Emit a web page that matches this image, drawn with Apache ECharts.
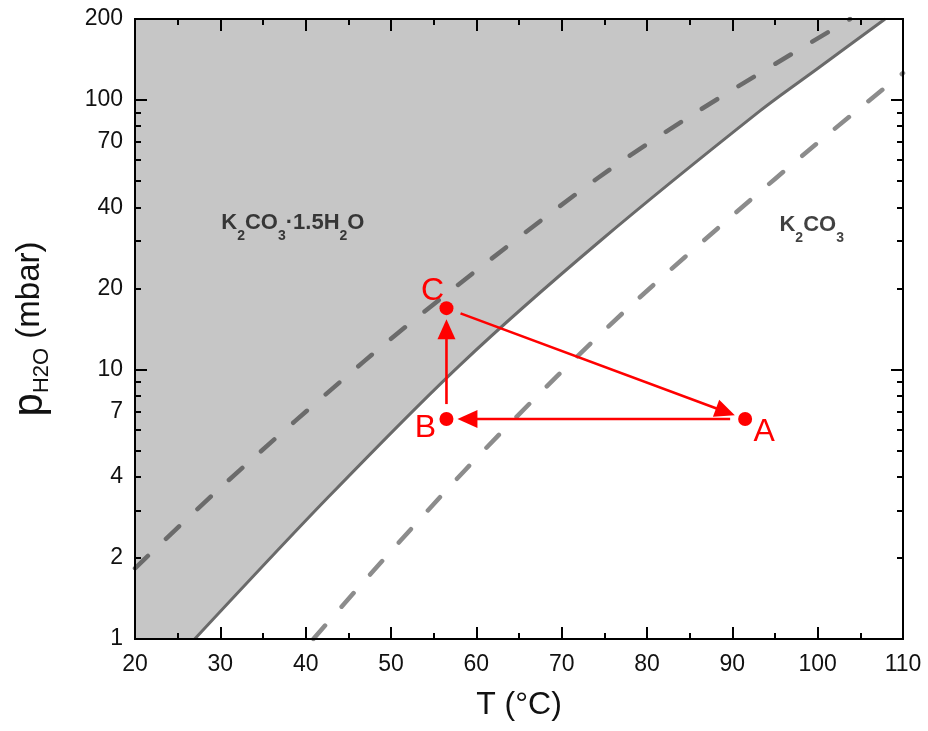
<!DOCTYPE html>
<html>
<head>
<meta charset="utf-8">
<script src="https://cdn.jsdelivr.net/npm/echarts@6/dist/echarts.min.js"></script>
<style>
  html, body { margin: 0; padding: 0; background: #fff; }
  #chart { width: 928px; height: 731px; }
</style>
</head>
<body>
<div id="chart"></div>
<script>
// values: [T (°C), p_H2O (mbar)]
const equilibrium = [[27.0, 1.0], [42.6, 3.35], [58.3, 10.55], [74.5, 30], [93.2, 91], [100, 131], [107.9, 200]];
const upperDashed = [[20, 1.83], [30.8, 3.84], [46.8, 10.7], [57.5, 20.2], [74.2, 51.3], [86.2, 91.9], [103.8, 200]];
const lowerDashed = [[40.9, 1], [47.3, 1.70], [58.7, 4.24], [69.4, 9.41], [78.8, 18.1], [90.1, 37.5], [100, 69.4], [110, 126]];

const cycleNames = ['A', 'B', 'C'];
const cycleT = [91.5, 56.5, 56.5];
const cycleP = [6.55, 6.55, 16.9];
const cycleSteps = [[0, 1], [1, 2], [2, 0]]; // A->B, B->C, C->A

const phaseText = ['{b|K}{s|2}{b|CO}{s|3}{b|·1.5H}{s|2}{b|O}', '{b|K}{s|2}{b|CO}{s|3}'];
const phaseT = [38.5, 99.3];
const phaseP = [35, 34.4];

const xMin = 20, xMax = 110, xStep = 10;
const yMin = 1, yMax = 200;
const yLabels = [1, 2, 4, 7, 10, 20, 40, 70, 100, 200];
const yMajor = [1, 10, 100];
const yMinor = [2, 3, 4, 5, 6, 7, 8, 9, 20, 30, 40, 50, 60, 70, 80, 90];

const FONT = '"Liberation Sans", Arial, sans-serif';
const RED = '#ff0000';
const GRAY = '#c6c6c6';
const SMOOTH = 0.3;

const chart = echarts.init(document.getElementById('chart'));

const lineStyleAxis = { color: '#000', width: 2 };

const xAxisBase = (pos, withLabels) => ({
  type: 'value',
  position: pos,
  z: 10,
  min: xMin,
  max: xMax,
  interval: xStep,
  axisLine: { show: true, onZero: false, lineStyle: lineStyleAxis },
  axisTick: { show: true, inside: true, length: 12, lineStyle: lineStyleAxis },
  minorTick: { show: true, splitNumber: 2, length: 6, lineStyle: lineStyleAxis },
  axisLabel: { show: withLabels, fontSize: 23, color: '#111', fontFamily: FONT, margin: 14 },
  splitLine: { show: false },
  minorSplitLine: { show: false }
});

const yAxisBase = (pos, ticks, len, withLabels) => ({
  type: 'log',
  logBase: 10,
  position: pos,
  z: 10,
  min: yMin,
  max: yMax,
  axisLine: { show: true, onZero: false, lineStyle: lineStyleAxis },
  axisTick: { show: true, inside: true, length: len, customValues: ticks, lineStyle: lineStyleAxis },
  axisLabel: withLabels
    ? { show: true, customValues: yLabels, fontSize: 23, color: '#111', fontFamily: FONT, margin: 12 }
    : { show: false },
  splitLine: { show: false }
});

const yMain = yAxisBase('left', yMajor, 12, true);
yMain.name = '{p|p}{s|H2O}{m| (mbar)}';
yMain.nameLocation = 'middle';
yMain.nameRotate = 90;
yMain.nameGap = 82;
yMain.nameTextStyle = {
  rich: {
    p: { fontSize: 42, fontFamily: FONT, color: '#111', lineHeight: 46 },
    m: { fontSize: 33, fontFamily: FONT, color: '#111', lineHeight: 46 },
    s: { fontSize: 22, fontFamily: FONT, color: '#111', lineHeight: 22, verticalAlign: 'bottom' }
  }
};

const xMain = xAxisBase('bottom', true);
xMain.name = 'T (°C)';
xMain.nameLocation = 'middle';
xMain.nameGap = 50;
xMain.nameTextStyle = { fontSize: 32, fontFamily: FONT, color: '#111' };

const arrowData = cycleSteps.map(s => [cycleT[s[0]], cycleP[s[0]], cycleT[s[1]], cycleP[s[1]]]);

function renderArrow(params, api) {
  const a = api.coord([api.value(0), api.value(1)]);
  const b = api.coord([api.value(2), api.value(3)]);
  const dx = b[0] - a[0], dy = b[1] - a[1];
  const len = Math.sqrt(dx * dx + dy * dy);
  const ux = dx / len, uy = dy / len;
  const startGap = 15, endGap = 11, headLen = 20, headHalf = 9;
  const s = [a[0] + ux * startGap, a[1] + uy * startGap];
  const tip = [b[0] - ux * endGap, b[1] - uy * endGap];
  const base = [tip[0] - ux * headLen, tip[1] - uy * headLen];
  return {
    type: 'group',
    children: [
      {
        type: 'line',
        shape: { x1: s[0], y1: s[1], x2: base[0] + ux * 2, y2: base[1] + uy * 2 },
        style: { stroke: RED, lineWidth: 2.6 }
      },
      {
        type: 'polygon',
        shape: {
          points: [
            tip,
            [base[0] - uy * headHalf, base[1] + ux * headHalf],
            [base[0] + uy * headHalf, base[1] - ux * headHalf]
          ]
        },
        style: { fill: RED }
      }
    ]
  };
}

const grayFill = { color: GRAY, opacity: 1, origin: 'end' };

const option = {
  backgroundColor: '#fff',
  animation: false,
  grid: { left: 135, right: 25, top: 19, bottom: 92, containLabel: false },
  xAxis: [xMain, xAxisBase('top', false)],
  yAxis: [
    yMain,
    yAxisBase('left', yMinor, 6, false),
    yAxisBase('right', yMajor, 12, false),
    yAxisBase('right', yMinor, 6, false)
  ],
  series: [
    {
      name: 'hydrate region',
      type: 'line',
      data: equilibrium,
      symbol: 'none',
      smooth: SMOOTH,
      lineStyle: { width: 0 },
      areaStyle: grayFill,
      z: 1
    },
    {
      // hydrate field left of where the equilibrium line enters the plot;
      // its gray edge hides the seam between the two fills
      name: 'hydrate corner',
      type: 'line',
      data: [[xMin, yMin], equilibrium[0], [equilibrium[0][0], yMax]],
      symbol: 'none',
      lineStyle: { width: 2, color: GRAY },
      areaStyle: grayFill,
      z: 1
    },
    {
      name: 'equilibrium',
      type: 'line',
      data: equilibrium,
      symbol: 'none',
      smooth: SMOOTH,
      lineStyle: { color: '#6a6a6a', width: 3 },
      z: 3
    },
    {
      name: 'upper dashed',
      type: 'line',
      data: upperDashed,
      symbol: 'none',
      smooth: SMOOTH,
      lineStyle: { color: '#6b6b6b', width: 4.5, type: [18, 25], cap: 'round' },
      z: 2
    },
    {
      name: 'lower dashed',
      type: 'line',
      data: lowerDashed,
      symbol: 'none',
      smooth: SMOOTH,
      lineStyle: { color: '#8c8c8c', width: 4.5, type: [18, 25], cap: 'round' },
      z: 2
    },
    {
      name: 'phase labels',
      type: 'scatter',
      data: phaseT.map((t, i) => [t, phaseP[i]]),
      symbolSize: 0,
      label: {
        show: true,
        position: 'inside',
        formatter: p => phaseText[p.dataIndex],
        rich: {
          b: { fontSize: 22, fontWeight: 'bold', fontFamily: FONT, color: '#111', lineHeight: 40 },
          s: { fontSize: 14, fontWeight: 'bold', fontFamily: FONT, color: '#111', lineHeight: 15, verticalAlign: 'bottom' }
        }
      },
      z: 4
    },
    {
      name: 'cycle arrows',
      type: 'custom',
      renderItem: renderArrow,
      encode: { x: [0, 2], y: [1, 3] },
      data: arrowData,
      z: 5
    },
    {
      name: 'cycle points',
      type: 'scatter',
      data: cycleT.map((t, i) => [t, cycleP[i]]),
      symbol: 'circle',
      symbolSize: 14,
      itemStyle: { color: RED, opacity: 1 },
      label: {
        show: true,
        position: 'inside',
        formatter: p => cycleNames[p.dataIndex],
        color: RED,
        fontSize: 32,
        fontFamily: FONT
      },
      labelLayout: p => {
        const offs = [[19, 13], [-21, 9], [-14, -17]];
        const o = offs[p.dataIndex];
        return { dx: o[0], dy: o[1] };
      },
      z: 6
    }
  ]
};

chart.setOption(option);
</script>
</body>
</html>
